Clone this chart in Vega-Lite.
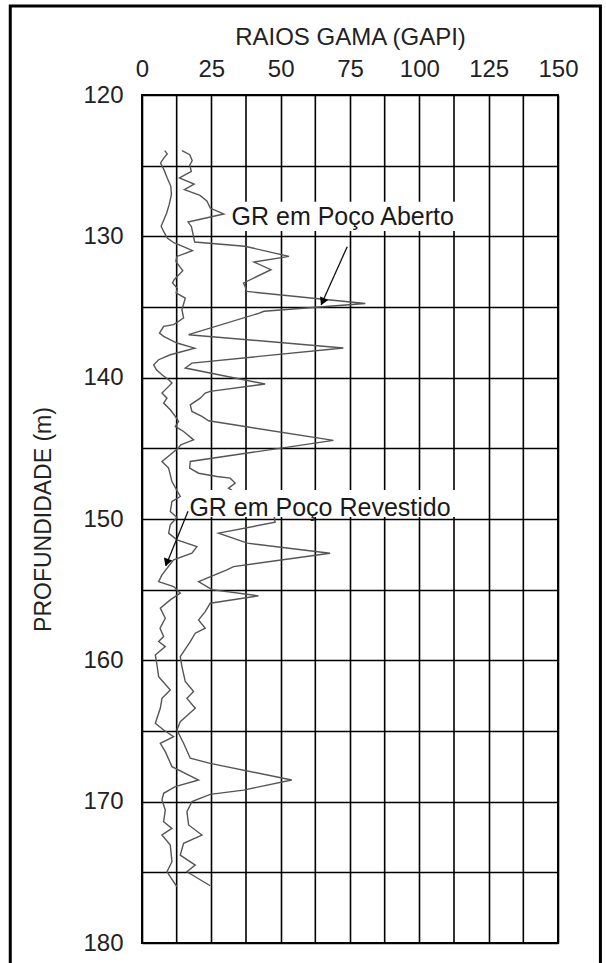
{
  "$schema": "https://vega.github.io/schema/vega-lite/v6.json",
  "width": 416,
  "height": 848,
  "autosize": {"type": "none"},
  "padding": {"left": 142, "top": 95, "right": 48, "bottom": 20},
  "background": "white",
  "config": {
    "view": {"stroke": "#000", "strokeWidth": 2},
    "axis": {
      "grid": true,
      "gridColor": "#000", "gridWidth": 1.6, "gridOpacity": 1,
      "ticks": false, "domain": false,
      "labelFont": "Liberation Sans", "titleFont": "Liberation Sans",
      "labelColor": "#222", "titleColor": "#222", "titleFontWeight": "normal",
      "labelFontSize": 24, "titleFontSize": 24
    }
  },
  "datasets": {
    "logs": [
      {"curve": "Revestido", "depth": 123.93, "gr": 8.2},
      {"curve": "Revestido", "depth": 124.17, "gr": 9.1},
      {"curve": "Revestido", "depth": 124.45, "gr": 7.9},
      {"curve": "Revestido", "depth": 124.81, "gr": 6.7},
      {"curve": "Revestido", "depth": 125.28, "gr": 7.9},
      {"curve": "Revestido", "depth": 125.87, "gr": 9.1},
      {"curve": "Revestido", "depth": 126.46, "gr": 10.4},
      {"curve": "Revestido", "depth": 127.05, "gr": 10.6},
      {"curve": "Revestido", "depth": 127.76, "gr": 9.8},
      {"curve": "Revestido", "depth": 128.35, "gr": 8.9},
      {"curve": "Revestido", "depth": 128.82, "gr": 7.9},
      {"curve": "Revestido", "depth": 129.29, "gr": 6.9},
      {"curve": "Revestido", "depth": 129.69, "gr": 7.9},
      {"curve": "Revestido", "depth": 130.12, "gr": 9.1},
      {"curve": "Revestido", "depth": 130.47, "gr": 11.6},
      {"curve": "Revestido", "depth": 130.71, "gr": 14.7},
      {"curve": "Revestido", "depth": 131.01, "gr": 18.2},
      {"curve": "Revestido", "depth": 131.42, "gr": 12.6},
      {"curve": "Revestido", "depth": 131.77, "gr": 12.2},
      {"curve": "Revestido", "depth": 132.43, "gr": 14.7},
      {"curve": "Revestido", "depth": 133.07, "gr": 11.6},
      {"curve": "Revestido", "depth": 133.3, "gr": 11.0},
      {"curve": "Revestido", "depth": 133.7, "gr": 12.8},
      {"curve": "Revestido", "depth": 134.0, "gr": 12.3},
      {"curve": "Revestido", "depth": 134.37, "gr": 15.6},
      {"curve": "Revestido", "depth": 135.19, "gr": 14.4},
      {"curve": "Revestido", "depth": 135.78, "gr": 15.0},
      {"curve": "Revestido", "depth": 136.25, "gr": 11.4},
      {"curve": "Revestido", "depth": 136.37, "gr": 7.8},
      {"curve": "Revestido", "depth": 136.84, "gr": 6.3},
      {"curve": "Revestido", "depth": 137.08, "gr": 7.8},
      {"curve": "Revestido", "depth": 137.55, "gr": 12.6},
      {"curve": "Revestido", "depth": 137.91, "gr": 19.0},
      {"curve": "Revestido", "depth": 138.38, "gr": 10.2},
      {"curve": "Revestido", "depth": 138.73, "gr": 6.0},
      {"curve": "Revestido", "depth": 139.09, "gr": 4.2},
      {"curve": "Revestido", "depth": 139.44, "gr": 5.2},
      {"curve": "Revestido", "depth": 139.79, "gr": 7.2},
      {"curve": "Revestido", "depth": 140.15, "gr": 9.6},
      {"curve": "Revestido", "depth": 140.38, "gr": 10.8},
      {"curve": "Revestido", "depth": 140.74, "gr": 9.0},
      {"curve": "Revestido", "depth": 141.09, "gr": 7.2},
      {"curve": "Revestido", "depth": 141.45, "gr": 9.0},
      {"curve": "Revestido", "depth": 141.8, "gr": 7.8},
      {"curve": "Revestido", "depth": 142.27, "gr": 10.2},
      {"curve": "Revestido", "depth": 142.74, "gr": 12.0},
      {"curve": "Revestido", "depth": 143.1, "gr": 13.2},
      {"curve": "Revestido", "depth": 143.45, "gr": 12.0},
      {"curve": "Revestido", "depth": 143.81, "gr": 15.0},
      {"curve": "Revestido", "depth": 144.4, "gr": 18.6},
      {"curve": "Revestido", "depth": 144.75, "gr": 14.0},
      {"curve": "Revestido", "depth": 145.0, "gr": 13.0},
      {"curve": "Revestido", "depth": 145.93, "gr": 7.2},
      {"curve": "Revestido", "depth": 146.4, "gr": 9.6},
      {"curve": "Revestido", "depth": 147.35, "gr": 10.8},
      {"curve": "Revestido", "depth": 148.41, "gr": 13.8},
      {"curve": "Revestido", "depth": 148.76, "gr": 10.8},
      {"curve": "Revestido", "depth": 149.47, "gr": 10.2},
      {"curve": "Revestido", "depth": 149.9, "gr": 12.6},
      {"curve": "Revestido", "depth": 150.41, "gr": 10.2},
      {"curve": "Revestido", "depth": 151.0, "gr": 9.6},
      {"curve": "Revestido", "depth": 151.48, "gr": 12.6},
      {"curve": "Revestido", "depth": 151.95, "gr": 19.8},
      {"curve": "Revestido", "depth": 152.42, "gr": 18.0},
      {"curve": "Revestido", "depth": 152.89, "gr": 11.4},
      {"curve": "Revestido", "depth": 153.95, "gr": 7.2},
      {"curve": "Revestido", "depth": 154.43, "gr": 6.0},
      {"curve": "Revestido", "depth": 154.78, "gr": 11.4},
      {"curve": "Revestido", "depth": 155.25, "gr": 13.8},
      {"curve": "Revestido", "depth": 155.72, "gr": 10.2},
      {"curve": "Revestido", "depth": 156.31, "gr": 6.6},
      {"curve": "Revestido", "depth": 157.02, "gr": 8.4},
      {"curve": "Revestido", "depth": 157.73, "gr": 6.5},
      {"curve": "Revestido", "depth": 158.32, "gr": 7.8},
      {"curve": "Revestido", "depth": 158.67, "gr": 6.0},
      {"curve": "Revestido", "depth": 159.03, "gr": 8.4},
      {"curve": "Revestido", "depth": 159.62, "gr": 4.8},
      {"curve": "Revestido", "depth": 160.33, "gr": 5.4},
      {"curve": "Revestido", "depth": 161.15, "gr": 6.0},
      {"curve": "Revestido", "depth": 162.1, "gr": 10.2},
      {"curve": "Revestido", "depth": 162.69, "gr": 7.2},
      {"curve": "Revestido", "depth": 163.39, "gr": 6.6},
      {"curve": "Revestido", "depth": 164.46, "gr": 4.8},
      {"curve": "Revestido", "depth": 164.93, "gr": 7.8},
      {"curve": "Revestido", "depth": 165.4, "gr": 11.4},
      {"curve": "Revestido", "depth": 165.87, "gr": 6.6},
      {"curve": "Revestido", "depth": 166.46, "gr": 8.4},
      {"curve": "Revestido", "depth": 167.52, "gr": 10.8},
      {"curve": "Revestido", "depth": 168.47, "gr": 20.4},
      {"curve": "Revestido", "depth": 168.94, "gr": 12.0},
      {"curve": "Revestido", "depth": 169.41, "gr": 7.8},
      {"curve": "Revestido", "depth": 169.88, "gr": 7.2},
      {"curve": "Revestido", "depth": 170.59, "gr": 8.4},
      {"curve": "Revestido", "depth": 171.42, "gr": 7.8},
      {"curve": "Revestido", "depth": 171.89, "gr": 10.8},
      {"curve": "Revestido", "depth": 172.36, "gr": 7.2},
      {"curve": "Revestido", "depth": 173.07, "gr": 10.2},
      {"curve": "Revestido", "depth": 174.25, "gr": 10.8},
      {"curve": "Revestido", "depth": 174.96, "gr": 9.0},
      {"curve": "Revestido", "depth": 176.02, "gr": 12.6},
      {"curve": "Aberto", "depth": 123.93, "gr": 14.4},
      {"curve": "Aberto", "depth": 124.22, "gr": 17.2},
      {"curve": "Aberto", "depth": 124.64, "gr": 18.1},
      {"curve": "Aberto", "depth": 124.97, "gr": 17.2},
      {"curve": "Aberto", "depth": 125.4, "gr": 17.8},
      {"curve": "Aberto", "depth": 125.87, "gr": 13.5},
      {"curve": "Aberto", "depth": 126.3, "gr": 18.8},
      {"curve": "Aberto", "depth": 126.7, "gr": 15.3},
      {"curve": "Aberto", "depth": 127.1, "gr": 20.9},
      {"curve": "Aberto", "depth": 127.5, "gr": 23.4},
      {"curve": "Aberto", "depth": 128.0, "gr": 24.6},
      {"curve": "Aberto", "depth": 128.42, "gr": 29.5},
      {"curve": "Aberto", "depth": 128.99, "gr": 16.6},
      {"curve": "Aberto", "depth": 129.3, "gr": 17.8},
      {"curve": "Aberto", "depth": 130.4, "gr": 19.0},
      {"curve": "Aberto", "depth": 130.7, "gr": 37.0},
      {"curve": "Aberto", "depth": 131.42, "gr": 53.0},
      {"curve": "Aberto", "depth": 131.82, "gr": 40.4},
      {"curve": "Aberto", "depth": 132.36, "gr": 46.5},
      {"curve": "Aberto", "depth": 133.3, "gr": 36.6},
      {"curve": "Aberto", "depth": 133.6, "gr": 37.3},
      {"curve": "Aberto", "depth": 133.9, "gr": 37.8},
      {"curve": "Aberto", "depth": 134.75, "gr": 80.5},
      {"curve": "Aberto", "depth": 135.3, "gr": 44.0},
      {"curve": "Aberto", "depth": 135.45, "gr": 42.0},
      {"curve": "Aberto", "depth": 136.96, "gr": 16.8},
      {"curve": "Aberto", "depth": 137.9, "gr": 72.6},
      {"curve": "Aberto", "depth": 138.97, "gr": 18.0},
      {"curve": "Aberto", "depth": 139.32, "gr": 15.6},
      {"curve": "Aberto", "depth": 140.45, "gr": 44.4},
      {"curve": "Aberto", "depth": 140.97, "gr": 24.6},
      {"curve": "Aberto", "depth": 141.09, "gr": 22.8},
      {"curve": "Aberto", "depth": 141.45, "gr": 21.0},
      {"curve": "Aberto", "depth": 141.92, "gr": 17.4},
      {"curve": "Aberto", "depth": 142.39, "gr": 18.0},
      {"curve": "Aberto", "depth": 142.74, "gr": 21.6},
      {"curve": "Aberto", "depth": 143.05, "gr": 24.0},
      {"curve": "Aberto", "depth": 144.44, "gr": 69.0},
      {"curve": "Aberto", "depth": 145.93, "gr": 17.4},
      {"curve": "Aberto", "depth": 146.4, "gr": 17.2},
      {"curve": "Aberto", "depth": 146.76, "gr": 20.4},
      {"curve": "Aberto", "depth": 146.99, "gr": 27.0},
      {"curve": "Aberto", "depth": 147.11, "gr": 31.8},
      {"curve": "Aberto", "depth": 147.46, "gr": 33.6},
      {"curve": "Aberto", "depth": 147.82, "gr": 31.2},
      {"curve": "Aberto", "depth": 148.3, "gr": 35.0},
      {"curve": "Aberto", "depth": 149.6, "gr": 47.5},
      {"curve": "Aberto", "depth": 150.23, "gr": 48.0},
      {"curve": "Aberto", "depth": 151.0, "gr": 27.6},
      {"curve": "Aberto", "depth": 151.71, "gr": 38.0},
      {"curve": "Aberto", "depth": 152.42, "gr": 67.8},
      {"curve": "Aberto", "depth": 153.37, "gr": 33.0},
      {"curve": "Aberto", "depth": 153.6, "gr": 30.6},
      {"curve": "Aberto", "depth": 154.43, "gr": 20.4},
      {"curve": "Aberto", "depth": 155.0, "gr": 25.2},
      {"curve": "Aberto", "depth": 155.44, "gr": 42.0},
      {"curve": "Aberto", "depth": 155.96, "gr": 24.6},
      {"curve": "Aberto", "depth": 156.55, "gr": 22.8},
      {"curve": "Aberto", "depth": 157.14, "gr": 20.4},
      {"curve": "Aberto", "depth": 157.73, "gr": 22.8},
      {"curve": "Aberto", "depth": 158.08, "gr": 19.2},
      {"curve": "Aberto", "depth": 158.67, "gr": 17.4},
      {"curve": "Aberto", "depth": 159.74, "gr": 13.8},
      {"curve": "Aberto", "depth": 160.44, "gr": 14.4},
      {"curve": "Aberto", "depth": 161.5, "gr": 15.6},
      {"curve": "Aberto", "depth": 162.21, "gr": 18.6},
      {"curve": "Aberto", "depth": 162.69, "gr": 16.2},
      {"curve": "Aberto", "depth": 163.39, "gr": 19.2},
      {"curve": "Aberto", "depth": 164.34, "gr": 13.8},
      {"curve": "Aberto", "depth": 164.93, "gr": 12.6},
      {"curve": "Aberto", "depth": 165.87, "gr": 15.0},
      {"curve": "Aberto", "depth": 166.93, "gr": 17.4},
      {"curve": "Aberto", "depth": 167.29, "gr": 24.6},
      {"curve": "Aberto", "depth": 168.47, "gr": 54.0},
      {"curve": "Aberto", "depth": 169.18, "gr": 36.6},
      {"curve": "Aberto", "depth": 169.48, "gr": 24.6},
      {"curve": "Aberto", "depth": 170.0, "gr": 18.0},
      {"curve": "Aberto", "depth": 170.24, "gr": 17.4},
      {"curve": "Aberto", "depth": 170.71, "gr": 16.2},
      {"curve": "Aberto", "depth": 171.65, "gr": 16.8},
      {"curve": "Aberto", "depth": 172.36, "gr": 21.6},
      {"curve": "Aberto", "depth": 172.95, "gr": 15.0},
      {"curve": "Aberto", "depth": 173.78, "gr": 13.8},
      {"curve": "Aberto", "depth": 174.49, "gr": 19.2},
      {"curve": "Aberto", "depth": 174.96, "gr": 16.2},
      {"curve": "Aberto", "depth": 175.95, "gr": 24.6}
    ],
    "minorgrid": [
      {"g": 12.5}, {"g": 37.5}, {"g": 62.5}, {"g": 87.5}, {"g": 112.5}, {"g": 137.5}
    ],
    "labels": [
      {"label": "GR em Poço Aberto", "gr": 32.3, "depth": 128.63, "bx1": 31.4, "bx2": 116, "by1": 127.55, "by2": 129.62},
      {"label": "GR em Poço Revestido", "gr": 17.1, "depth": 149.23, "bx1": 16.2, "bx2": 114, "by1": 147.95, "by2": 149.86}
    ],
    "arrows": [
      {"x1": 74.0, "y1": 130.73, "x2": 64.6, "y2": 134.84, "tx": 65.3, "ty": 134.55, "angle": 204},
      {"x1": 16.6, "y1": 149.45, "x2": 8.6, "y2": 153.3, "tx": 9.1, "ty": 153.0, "angle": 200}
    ]
  },
  "layer": [
    {
      "data": {"name": "minorgrid"},
      "mark": {"type": "rule", "color": "#000", "strokeWidth": 1.6},
      "encoding": {
        "x": {"field": "g", "type": "quantitative"}
      }
    },
    {
      "data": {"name": "logs"},
      "mark": {"type": "line", "color": "#555", "strokeWidth": 1.4},
      "encoding": {
        "x": {"field": "gr", "type": "quantitative", "scale": {"domain": [0, 150], "nice": false, "zero": false},
          "axis": {"orient": "top", "title": "RAIOS GAMA  (GAPI)", "grid": true, "values": [0, 12.5, 25, 37.5, 50, 62.5, 75, 87.5, 100, 112.5, 125, 137.5, 150],
            "labelExpr": "datum.value % 25 == 0 ? datum.label : ''", "labelOverlap": false, "labelPadding": 14, "titlePadding": 8, "labelFlush": false}},
        "y": {"field": "depth", "type": "quantitative", "scale": {"domain": [120, 180], "reverse": true, "nice": false, "zero": false},
          "axis": {"title": "PROFUNDIDADE  (m)", "grid": true, "titleFontSize": 23, "values": [120, 125, 130, 135, 140, 145, 150, 155, 160, 165, 170, 175, 180],
            "labelExpr": "datum.value % 10 == 0 ? datum.label : ''", "labelOverlap": false, "labelPadding": 19, "titlePadding": 27, "labelFlush": false}},
        "detail": {"field": "curve"},
        "order": {"field": "depth", "type": "quantitative"}
      }
    },
    {
      "data": {"values": [{"a": 1}]},
      "mark": {"type": "rect", "fill": null, "fillOpacity": 0, "stroke": "#000", "strokeWidth": 3, "clip": false},
      "encoding": {
        "x": {"datum": -47.5, "type": "quantitative"},
        "x2": {"datum": 165.3},
        "y": {"datum": 113.7, "type": "quantitative"},
        "y2": {"datum": 182}
      }
    },
    {
      "data": {"name": "labels"},
      "mark": {"type": "rect", "fill": "white", "stroke": null},
      "encoding": {
        "x": {"field": "bx1", "type": "quantitative"},
        "x2": {"field": "bx2"},
        "y": {"field": "by1", "type": "quantitative"},
        "y2": {"field": "by2"}
      }
    },
    {
      "data": {"name": "arrows"},
      "mark": {"type": "rule", "color": "#111", "strokeWidth": 1.3},
      "encoding": {
        "x": {"field": "x1", "type": "quantitative"},
        "x2": {"field": "x2"},
        "y": {"field": "y1", "type": "quantitative"},
        "y2": {"field": "y2"}
      }
    },
    {
      "data": {"name": "arrows"},
      "mark": {"type": "point", "shape": "triangle", "filled": true, "color": "#000", "size": 80, "opacity": 1},
      "encoding": {
        "x": {"field": "tx", "type": "quantitative"},
        "y": {"field": "ty", "type": "quantitative"},
        "angle": {"field": "angle", "type": "quantitative", "scale": null}
      }
    },
    {
      "data": {"name": "labels"},
      "mark": {"type": "text", "align": "left", "baseline": "middle", "font": "Liberation Sans", "fontSize": 25, "color": "#1a1a1a"},
      "encoding": {
        "x": {"field": "gr", "type": "quantitative"},
        "y": {"field": "depth", "type": "quantitative"},
        "text": {"field": "label"}
      }
    }
  ]
}
